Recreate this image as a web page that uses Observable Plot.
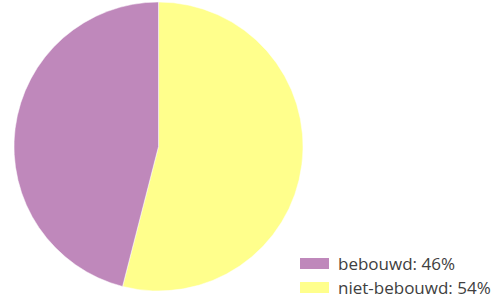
<!DOCTYPE html>
<html>
<head>
<meta charset="utf-8">
<script src="https://cdn.jsdelivr.net/npm/d3@7"></script>
<script src="https://cdn.jsdelivr.net/npm/@observablehq/plot@0.6"></script>
<style>
  html, body { margin: 0; padding: 0; background: #fff; }
  #wrap { position: relative; width: 497px; height: 302px; font-family: "Open Sans", sans-serif; }
  #legend { position: absolute; left: 300px; top: 251px; color: #404040; font-size: 17px; }
  .row { display: flex; align-items: center; height: 24px; }
  .sw { width: 29px; height: 11px; margin-right: 9px; }
</style>
</head>
<body>
<div id="wrap"></div>
<script>
const categories = ["bebouwd", "niet-bebouwd"];
const values = [46, 54];
const colors = ["#bf88bb", "#ffff8c"];
const labels = ["bebouwd: 46%", "niet-bebouwd: 54%"];

// layout
const W = 497, H = 302, CX = 158.5, CY = 146.5, R = 144.5;

// draw order: niet-bebouwd starts at 12 o'clock going clockwise
const order = [1, 0];
const data = order.map(i => ({category: categories[i], value: values[i]}));

const pieMark = (index, scales, vals, dims, context) => {
  const arcs = d3.pie().sort(null).value(d => d.value)(data);
  const arc = d3.arc().innerRadius(0).outerRadius(R);
  const g = d3.select(context.document.createElementNS("http://www.w3.org/2000/svg", "g"))
    .attr("transform", `translate(${CX},${CY})`);
  g.selectAll("path").data(arcs).join("path")
    .attr("d", arc)
    .attr("fill", d => scales.color(d.data.category))
    .attr("stroke", "#fff")
    .attr("stroke-width", 0.5);
  return g.node();
};

const chart = Plot.plot({
  width: W,
  height: H,
  margin: 0,
  x: {axis: null, domain: [0, 1]},
  y: {axis: null, domain: [0, 1]},
  color: {domain: categories, range: colors},
  marks: [
    Plot.dot(categories, {x: 0, y: 0, r: 0, fill: d => d}),
    pieMark
  ]
});
const wrap = document.getElementById("wrap");
wrap.appendChild(chart);

const legend = document.createElement("div");
legend.id = "legend";
categories.forEach((c, i) => {
  const row = document.createElement("div");
  row.className = "row";
  const sw = document.createElement("div");
  sw.className = "sw";
  sw.style.background = chart.scale("color").apply(c);
  const t = document.createElement("span");
  t.textContent = labels[i];
  row.appendChild(sw); row.appendChild(t);
  legend.appendChild(row);
});
wrap.appendChild(legend);
</script>
</body>
</html>
